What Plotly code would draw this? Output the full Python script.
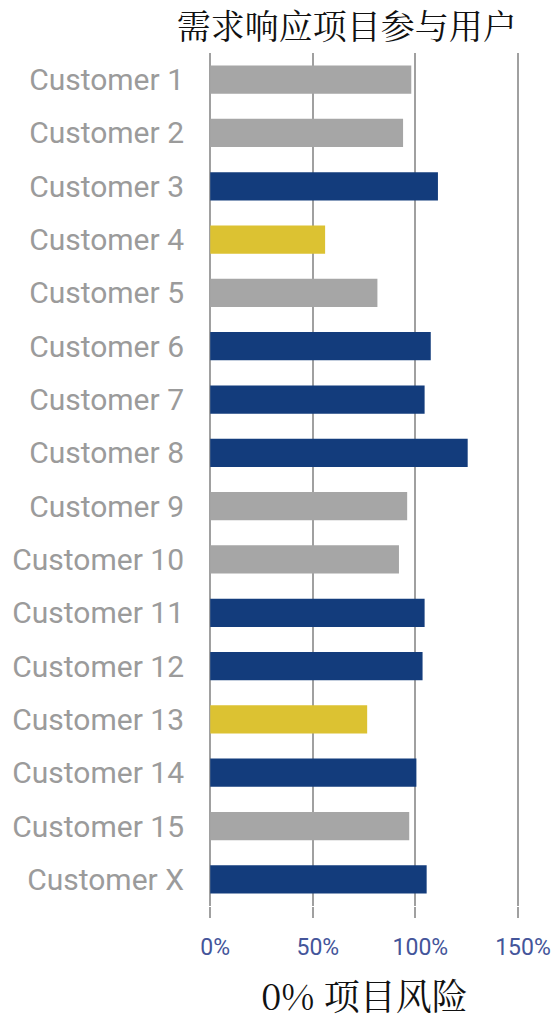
import plotly.graph_objects as go

customers = ["Customer 1", "Customer 2", "Customer 3", "Customer 4", "Customer 5",
             "Customer 6", "Customer 7", "Customer 8", "Customer 9", "Customer 10",
             "Customer 11", "Customer 12", "Customer 13", "Customer 14", "Customer 15",
             "Customer X"]
values = [98, 94, 111, 56, 81.5, 107.5, 104.5, 125.5, 96, 92, 104.5, 103.5, 76.5, 100.5, 97, 105.5]
groups = ["gray", "gray", "navy", "yellow", "gray", "navy", "navy", "navy", "gray", "gray",
          "navy", "navy", "yellow", "navy", "gray", "navy"]
palette = {"gray": "#a6a6a6", "navy": "#133c7c", "yellow": "#dcc232"}
tick_vals = [0, 50, 100, 150]
tick_text = ["0%", "50%", "100%", "150%"]

fig = go.Figure(go.Bar(
    y=customers, x=values, orientation="h",
    marker=dict(color=[palette[g] for g in groups], line=dict(width=0)),
    width=0.53,
))

# page body adds an 8px margin, so the figure is sized 551x1012
fig.update_layout(
    width=551, height=1012,
    margin=dict(l=201, r=39, t=45, b=114, autoexpand=False),
    plot_bgcolor="white", paper_bgcolor="white",
    showlegend=False,
    title=dict(text="需求响应项目参与用户", x=0.615, xanchor="center",
               y=0.981, yanchor="middle",
               font=dict(family="Noto Serif CJK SC, serif", size=34, color="#111111")),
)
fig.update_xaxes(
    range=[-0.6, 151], tickvals=tick_vals, ticktext=tick_text,
    showgrid=True, gridcolor="#a0a0a0", gridwidth=1.5,
    zeroline=False, showline=False, automargin=False,
    ticks="outside", ticklen=11, tickcolor="#a0a0a0", tickwidth=1.5,
    ticklabelstandoff=9, ticklabelshift=5,
    tickfont=dict(family="Roboto", size=23, color="#44559a"),
    title=dict(text="0% 项目风险", standoff=36,
               font=dict(family="Noto Serif CJK SC, serif", size=36, color="#111111")),
)
fig.update_yaxes(
    categoryorder="array", categoryarray=customers, autorange="reversed",
    showgrid=False, zeroline=False, showline=False, ticks="", automargin=False,
    ticklabelstandoff=24,
    tickfont=dict(family="Roboto", size=30, color="#9b9b9b"),
)

fig.write_html("out.html")
